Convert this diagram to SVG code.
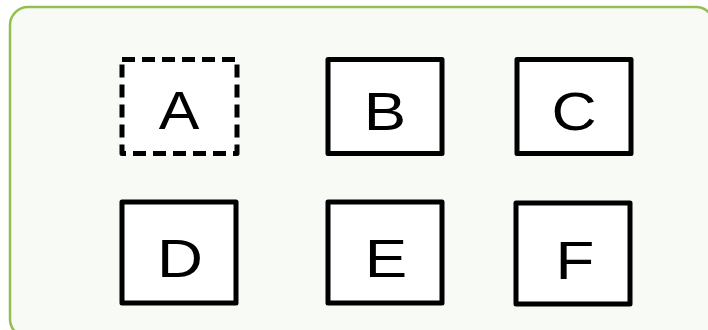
<svg xmlns="http://www.w3.org/2000/svg" width="708" height="330" viewBox="0 0 708 330">
<style>
.box{fill:#ffffff;stroke:#000000;stroke-width:5;stroke-linejoin:round}
.dash{stroke-dasharray:13 7}
.lbl{font-family:"Liberation Sans",Arial,sans-serif;font-size:53px;fill:#000000;text-anchor:middle}
</style>
<rect x="10" y="7" width="704" height="330" rx="18" fill="#f8faf6" stroke="#94bf50" stroke-width="2.5"/>
<g id="connectors"></g>
<g id="A"><rect class="box dash" x="122" y="59.5" width="115" height="94"/><text class="lbl" transform="translate(179 129) scale(1.15 1)">A</text></g>
<g id="B"><rect class="box" x="328" y="59.5" width="114" height="94"/><text class="lbl" transform="translate(385 130) scale(1.2 1)">B</text></g>
<g id="C"><rect class="box" x="517" y="59.5" width="114" height="94"/><text class="lbl" transform="translate(574 130) scale(1.18 1)">C</text></g>
<g id="D"><rect class="box" x="122" y="202" width="114" height="101"/><text class="lbl" transform="translate(180 277) scale(1.2 1)">D</text></g>
<g id="E"><rect class="box" x="328" y="202" width="114" height="101"/><text class="lbl" transform="translate(386 277) scale(1.2 1)">E</text></g>
<g id="F"><rect class="box" x="516" y="203" width="114" height="101"/><text class="lbl" transform="translate(575 279) scale(1.2 1)">F</text></g>
</svg>
